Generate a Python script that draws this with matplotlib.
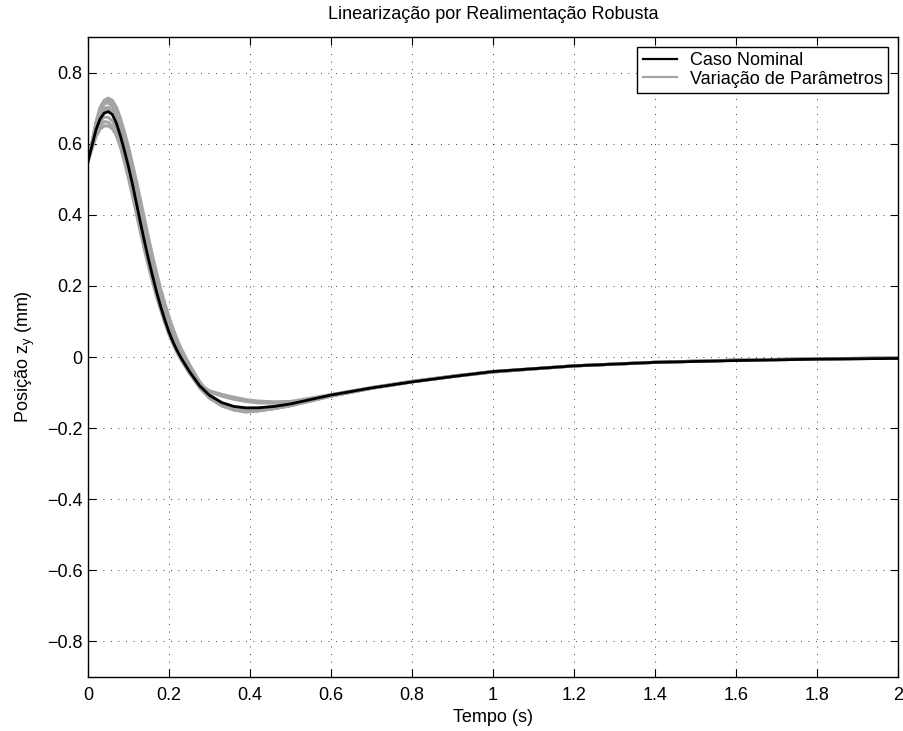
import numpy as np
import matplotlib
matplotlib.use("Agg")
import matplotlib.pyplot as plt
from matplotlib.lines import Line2D

plt.rcParams['font.family'] = ['Liberation Sans', 'DejaVu Sans']
plt.rcParams['mathtext.fontset'] = 'custom'
plt.rcParams['mathtext.rm'] = 'Liberation Sans'

# time samples (s)
t = [0, 0.01, 0.02, 0.03, 0.04, 0.05, 0.06, 0.07, 0.08, 0.09,
     0.10, 0.11, 0.12, 0.13, 0.14, 0.15, 0.16, 0.17, 0.18, 0.19,
     0.20, 0.21, 0.22, 0.23, 0.25, 0.275, 0.30, 0.33, 0.36, 0.39,
     0.42, 0.46, 0.50, 0.60, 0.70, 0.80, 0.90, 1.00, 1.20, 1.40,
     1.60, 1.80, 2.00]

nominal = [0.550, 0.595, 0.640, 0.670, 0.686, 0.690, 0.682, 0.658, 0.622, 0.580,
           0.535, 0.485, 0.430, 0.375, 0.322, 0.272, 0.225, 0.180, 0.140, 0.103,
           0.070, 0.042, 0.018, -0.003, -0.040, -0.080, -0.108, -0.128, -0.139, -0.143,
           -0.143, -0.139, -0.132, -0.107, -0.087, -0.070, -0.055, -0.041, -0.025, -0.015,
           -0.010, -0.006, -0.004]

var1 = [0.550, 0.605, 0.662, 0.702, 0.722, 0.728, 0.722, 0.703, 0.672, 0.633,
        0.590, 0.543, 0.493, 0.440, 0.386, 0.333, 0.282, 0.234, 0.190, 0.150,
        0.113, 0.080, 0.050, 0.024, -0.020, -0.068, -0.105, -0.133, -0.149, -0.155,
        -0.152, -0.145, -0.136, -0.110, -0.088, -0.070, -0.055, -0.042, -0.025, -0.015,
        -0.009, -0.006, -0.003]
var2 = [0.550, 0.602, 0.655, 0.693, 0.712, 0.715, 0.705, 0.680, 0.643, 0.598,
        0.548, 0.494, 0.438, 0.382, 0.328, 0.278, 0.232, 0.188, 0.148, 0.110,
        0.076, 0.046, 0.019, -0.004, -0.044, -0.086, -0.116, -0.137, -0.148, -0.151,
        -0.149, -0.143, -0.135, -0.109, -0.087, -0.069, -0.054, -0.041, -0.025, -0.015,
        -0.009, -0.005, -0.003]
var3 = [0.550, 0.600, 0.650, 0.683, 0.700, 0.702, 0.692, 0.668, 0.632, 0.588,
        0.540, 0.488, 0.432, 0.376, 0.322, 0.272, 0.225, 0.182, 0.142, 0.105,
        0.072, 0.042, 0.015, -0.008, -0.045, -0.078, -0.095, -0.105, -0.113, -0.120,
        -0.124, -0.126, -0.125, -0.106, -0.086, -0.068, -0.054, -0.041, -0.025, -0.015,
        -0.009, -0.005, -0.003]
var4 = [0.550, 0.590, 0.628, 0.652, 0.662, 0.660, 0.648, 0.624, 0.590, 0.548,
        0.502, 0.452, 0.400, 0.348, 0.298, 0.252, 0.208, 0.167, 0.130, 0.095,
        0.063, 0.036, 0.012, -0.008, -0.043, -0.082, -0.110, -0.130, -0.141, -0.145,
        -0.144, -0.139, -0.131, -0.106, -0.086, -0.069, -0.054, -0.041, -0.025, -0.015,
        -0.009, -0.005, -0.003]
var5 = [0.550, 0.595, 0.638, 0.664, 0.675, 0.674, 0.664, 0.642, 0.610, 0.570,
        0.526, 0.478, 0.427, 0.375, 0.325, 0.278, 0.233, 0.190, 0.150, 0.113,
        0.080, 0.050, 0.023, 0.000, -0.040, -0.083, -0.113, -0.135, -0.148, -0.152,
        -0.151, -0.145, -0.137, -0.110, -0.088, -0.070, -0.055, -0.042, -0.025, -0.015,
        -0.009, -0.006, -0.003]
var6 = [0.550, 0.603, 0.658, 0.698, 0.717, 0.720, 0.713, 0.693, 0.661, 0.620,
        0.575, 0.526, 0.474, 0.420, 0.366, 0.314, 0.265, 0.219, 0.176, 0.137,
        0.100, 0.068, 0.040, 0.015, -0.030, -0.075, -0.098, -0.110, -0.119, -0.125,
        -0.129, -0.130, -0.127, -0.107, -0.087, -0.069, -0.054, -0.041, -0.025, -0.015,
        -0.009, -0.005, -0.003]
var7 = [0.550, 0.587, 0.620, 0.641, 0.650, 0.650, 0.642, 0.624, 0.596, 0.560,
        0.520, 0.477, 0.432, 0.385, 0.338, 0.292, 0.248, 0.207, 0.168, 0.132,
        0.098, 0.068, 0.040, 0.015, -0.028, -0.072, -0.105, -0.130, -0.144, -0.150,
        -0.149, -0.144, -0.136, -0.109, -0.088, -0.070, -0.055, -0.042, -0.025, -0.015,
        -0.009, -0.006, -0.003]
var8 = [0.550, 0.598, 0.645, 0.677, 0.693, 0.695, 0.686, 0.663, 0.628, 0.586,
        0.540, 0.490, 0.436, 0.382, 0.330, 0.280, 0.233, 0.189, 0.148, 0.110,
        0.076, 0.046, 0.020, -0.003, -0.043, -0.085, -0.115, -0.137, -0.149, -0.153,
        -0.151, -0.145, -0.137, -0.110, -0.088, -0.070, -0.055, -0.042, -0.025, -0.015,
        -0.009, -0.006, -0.003]
variations = [var1, var2, var3, var4, var5, var6, var7, var8]

xticks = [0, 0.2, 0.4, 0.6, 0.8, 1.0, 1.2, 1.4, 1.6, 1.8, 2.0]
xtick_labels = ['0', '0.2', '0.4', '0.6', '0.8', '1', '1.2', '1.4', '1.6', '1.8', '2']
yticks = [-0.8, -0.6, -0.4, -0.2, 0, 0.2, 0.4, 0.6, 0.8]
ytick_labels = ['\u22120.8', '\u22120.6', '\u22120.4', '\u22120.2', '0', '0.2', '0.4', '0.6', '0.8']

fig = plt.figure(figsize=(9.04, 7.31), dpi=100)
ax = fig.add_axes([88/904, 54/731, 810/904, 640/731])

gray = '#a4a4a4'
for v in variations:
    ax.plot(t, v, color=gray, lw=2.2, solid_joinstyle='round', zorder=2)
ax.plot(t, nominal, color='black', lw=2.0, zorder=3)

ax.set_xlim(0, 2)
ax.set_ylim(-0.9, 0.9)
ax.set_xticks(xticks)
ax.set_xticklabels(xtick_labels)
ax.set_yticks(yticks)
ax.set_yticklabels(ytick_labels)
ax.tick_params(direction='in', length=6, width=0.8, top=True, right=True,
               labelsize=13)
ax.tick_params(axis='x', pad=7)
ax.tick_params(axis='y', pad=4)
ax.grid(True, color='black', linestyle=(0, (1, 8)), linewidth=0.6)
for s in ax.spines.values():
    s.set_linewidth(1.0)

ax.set_title('Linearização por Realimentação Robusta', fontsize=13, pad=13)
ax.set_xlabel('Tempo (s)', fontsize=13, labelpad=4)
ax.set_ylabel('Posição z$_\\mathregular{y}$ (mm)', fontsize=13, labelpad=7)

handles = [Line2D([], [], color='black', lw=1.6),
           Line2D([], [], color=gray, lw=1.6)]
leg = ax.legend(handles, ['Caso Nominal', 'Variação de Parâmetros'],
                loc='upper right', fontsize=13, fancybox=False, framealpha=1,
                edgecolor='black', borderaxespad=0.55, handlelength=1.9,
                borderpad=0.3, labelspacing=0.08, handletextpad=0.7)
leg.get_frame().set_linewidth(1.0)

fig.savefig('out.png', dpi=100)
